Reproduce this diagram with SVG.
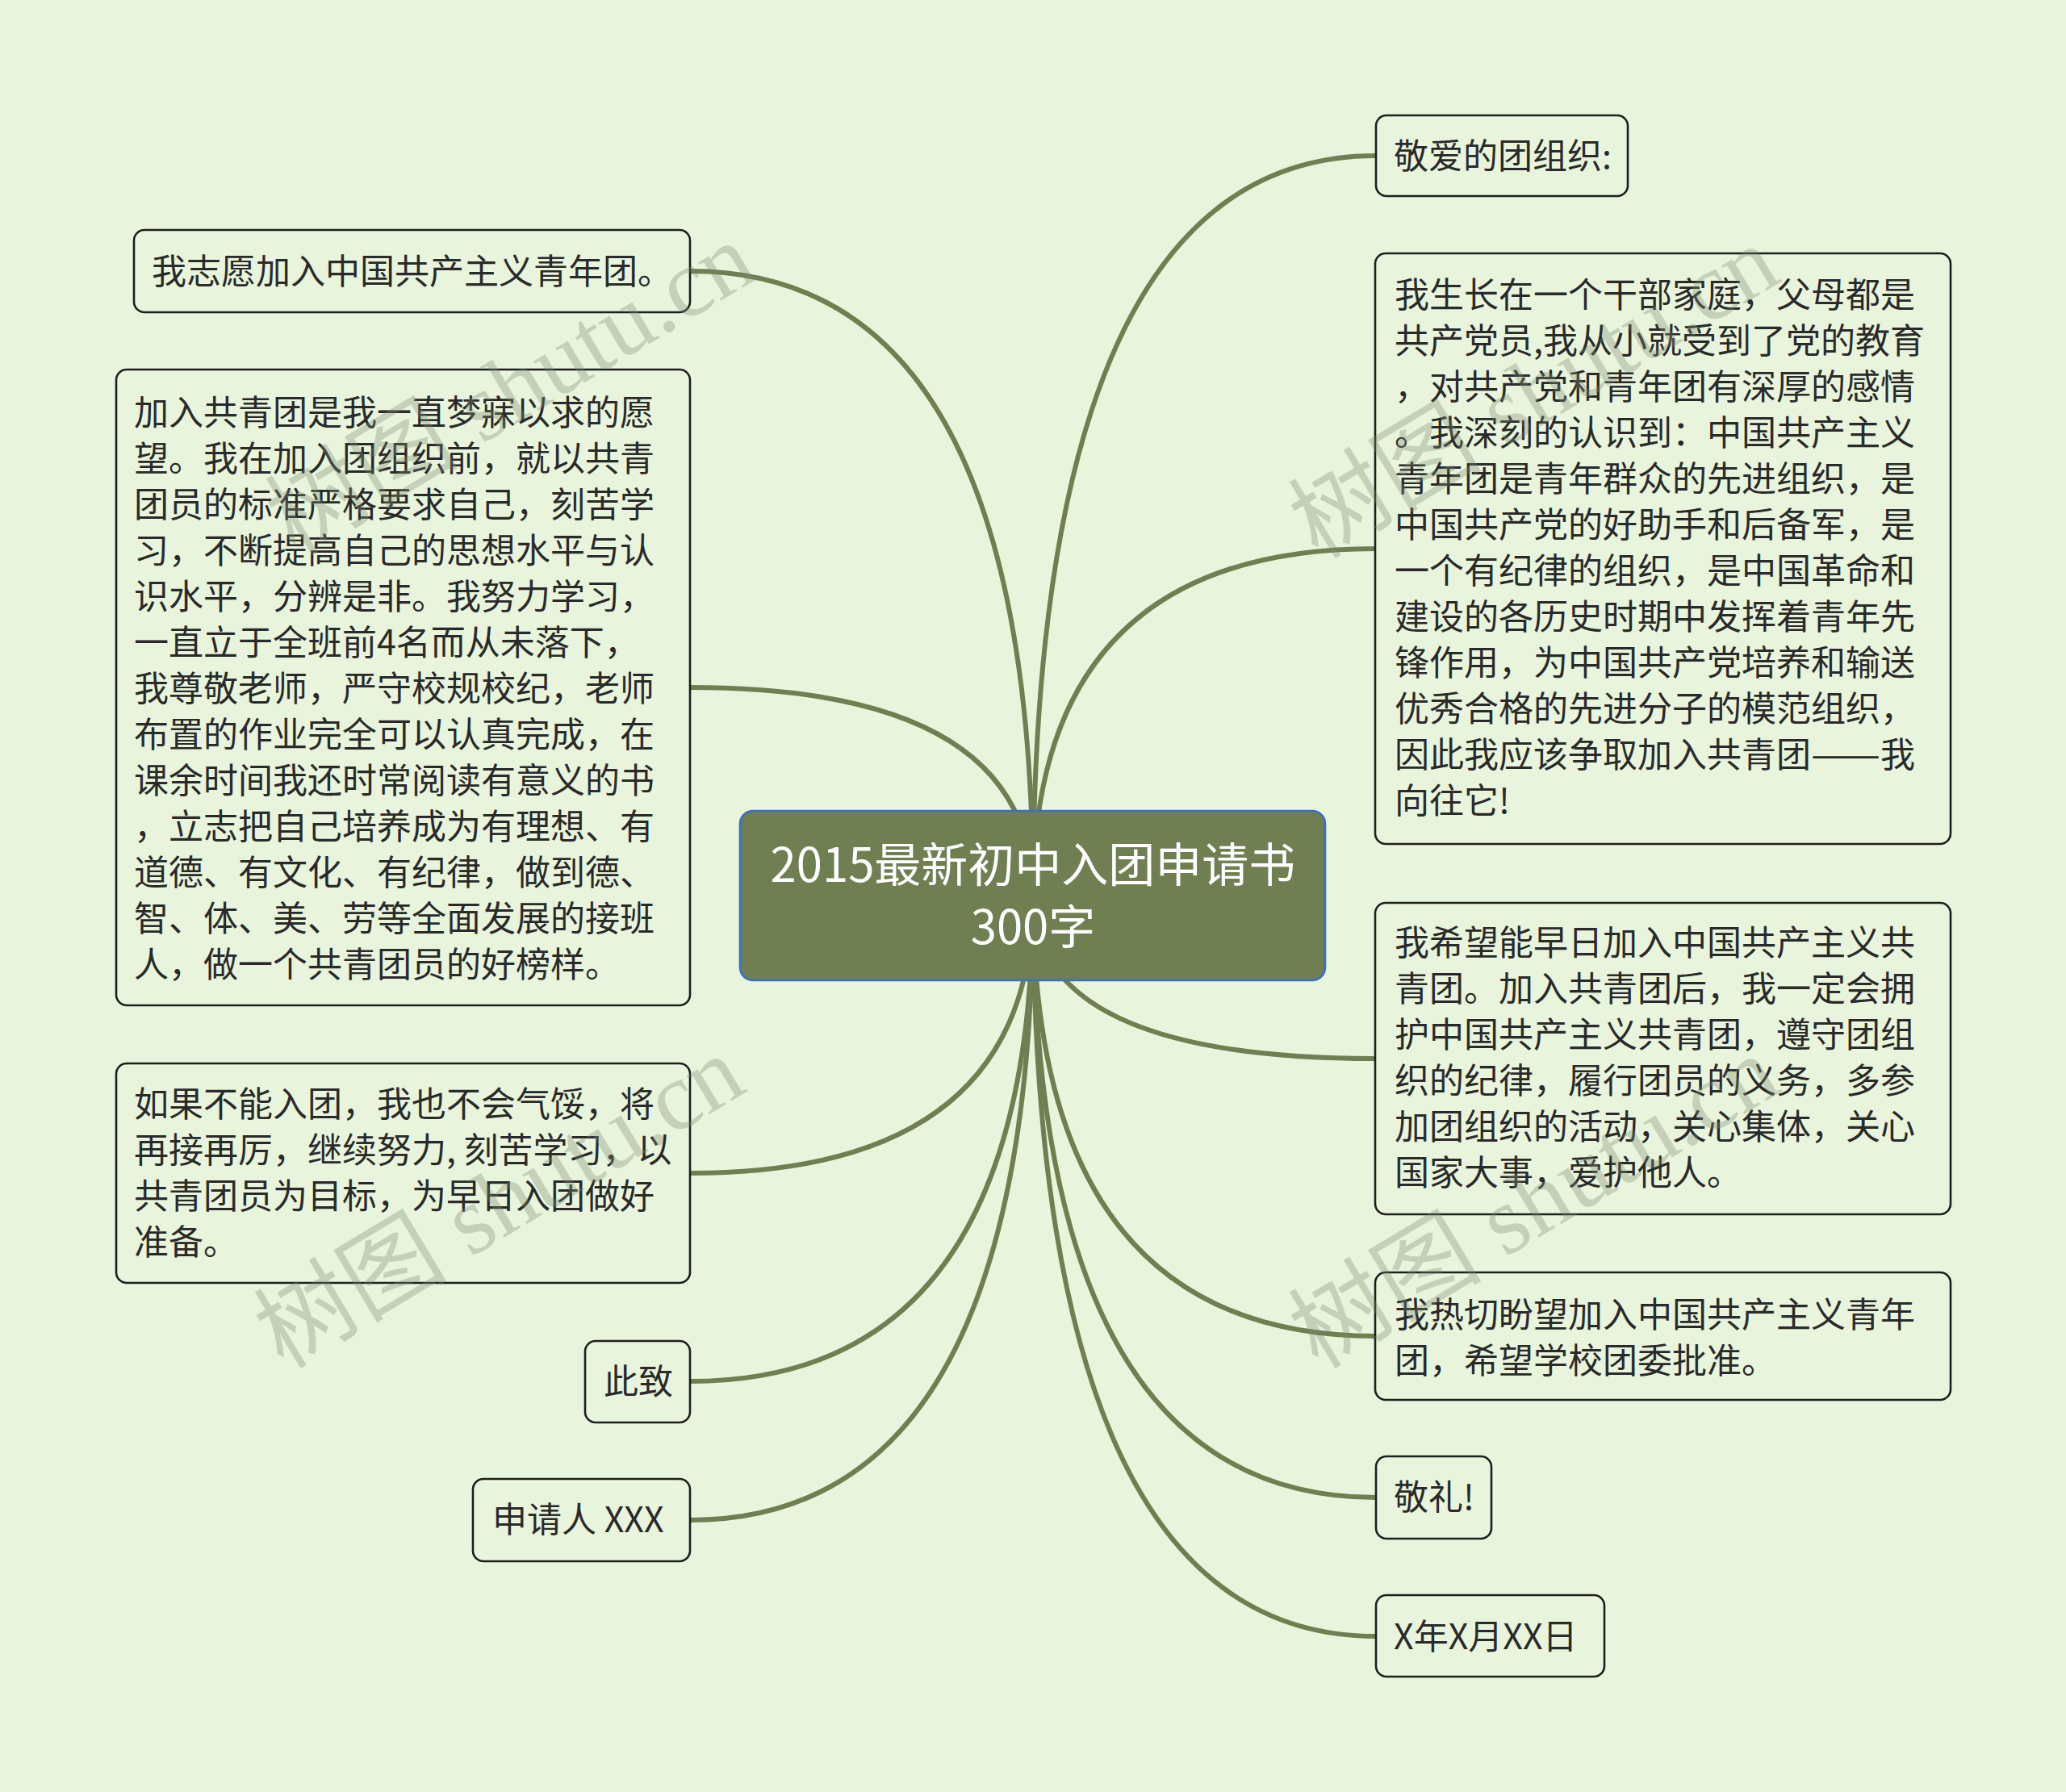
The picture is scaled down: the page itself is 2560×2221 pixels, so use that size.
<svg xmlns="http://www.w3.org/2000/svg" width="2560" height="2221" viewBox="0 0 2560 2221">
<style>
.bg{fill:#e8f5dc}
.conn{fill:none;stroke:#6f7f52;stroke-width:6;stroke-linecap:round}
.box{fill:#e8f5dc;stroke:#1e1e1e;stroke-width:2.6}
.root{fill:#6f7f52;stroke:#3b6fc6;stroke-width:2.6}
.t{font-family:"Noto Sans CJK SC","Noto Sans",sans-serif;font-size:43px;fill:#2a2a2a}
.rt{font-family:"Noto Sans CJK SC","Noto Sans",sans-serif;font-size:58px;fill:#ffffff;text-anchor:middle}
.wm{font-family:"Liberation Serif","Noto Sans CJK SC",serif;font-size:120px;fill:#7d8a70;fill-opacity:0.33}
</style>
<rect class="bg" x="0" y="0" width="2560" height="2221"/>
<g id="connectors">
<path class="conn" d="M1280,1110 Q1280,193 1705,193"/>
<path class="conn" d="M1280,1110 Q1280,680 1705,680"/>
<path class="conn" d="M1280,1110 Q1280,1312 1705,1312"/>
<path class="conn" d="M1280,1110 Q1280,1656 1705,1656"/>
<path class="conn" d="M1280,1110 Q1280,1856 1705,1856"/>
<path class="conn" d="M1280,1110 Q1280,2028 1705,2028"/>
<path class="conn" d="M1280,1110 Q1280,336 855,336"/>
<path class="conn" d="M1280,1110 Q1280,852 855,852"/>
<path class="conn" d="M1280,1110 Q1280,1454 855,1454"/>
<path class="conn" d="M1280,1110 Q1280,1712 855,1712"/>
<path class="conn" d="M1280,1110 Q1280,1884 855,1884"/>
</g>
<g id="root">
<rect class="root" x="917" y="1005" width="725" height="210" rx="16"/>
<text class="rt" x="1280" y="1093">2015最新初中入团申请书</text>
<text class="rt" x="1280" y="1170">300字</text>
</g>
<g id="n-jingai">
<rect class="box" x="1705" y="143" width="312" height="100" rx="13"/>
<text class="t" x="1727" y="209">敬爱的团组织:</text>
</g>
<g id="n-shengzhang">
<rect class="box" x="1704" y="314" width="713" height="732" rx="13"/>
<text class="t">
<tspan x="1728" y="381">我生长在一个干部家庭，父母都是</tspan>
<tspan x="1728" y="438">共产党员,我从小就受到了党的教育</tspan>
<tspan x="1728" y="495">，对共产党和青年团有深厚的感情</tspan>
<tspan x="1728" y="552">。我深刻的认识到：中国共产主义</tspan>
<tspan x="1728" y="609">青年团是青年群众的先进组织，是</tspan>
<tspan x="1728" y="666">中国共产党的好助手和后备军，是</tspan>
<tspan x="1728" y="723">一个有纪律的组织，是中国革命和</tspan>
<tspan x="1728" y="780">建设的各历史时期中发挥着青年先</tspan>
<tspan x="1728" y="837">锋作用，为中国共产党培养和输送</tspan>
<tspan x="1728" y="894">优秀合格的先进分子的模范组织，</tspan>
<tspan x="1728" y="951">因此我应该争取加入共青团</tspan><tspan textLength="86" lengthAdjust="spacingAndGlyphs">——</tspan><tspan>我</tspan>
<tspan x="1728" y="1008">向往它!</tspan>
</text>
</g>
<g id="n-xiwang">
<rect class="box" x="1704" y="1119" width="713" height="386" rx="13"/>
<text class="t">
<tspan x="1728" y="1184">我希望能早日加入中国共产主义共</tspan>
<tspan x="1728" y="1241">青团。加入共青团后，我一定会拥</tspan>
<tspan x="1728" y="1298">护中国共产主义共青团，遵守团组</tspan>
<tspan x="1728" y="1355">织的纪律，履行团员的义务，多参</tspan>
<tspan x="1728" y="1412">加团组织的活动，关心集体，关心</tspan>
<tspan x="1728" y="1469">国家大事，爱护他人。</tspan>
</text>
</g>
<g id="n-reqie">
<rect class="box" x="1704" y="1577" width="713" height="158" rx="13"/>
<text class="t">
<tspan x="1728" y="1645">我热切盼望加入中国共产主义青年</tspan>
<tspan x="1728" y="1702">团，希望学校团委批准。</tspan>
</text>
</g>
<g id="n-jingli">
<rect class="box" x="1705" y="1805" width="143" height="102" rx="13"/>
<text class="t" x="1727" y="1871">敬礼!</text>
</g>
<g id="n-date">
<rect class="box" x="1705" y="1977" width="283" height="101" rx="13"/>
<text class="t" x="1727" y="2044">X年X月XX日</text>
</g>
<g id="n-zhiyuan">
<rect class="box" x="166" y="285" width="689" height="102" rx="13"/>
<text class="t" x="188" y="352">我志愿加入中国共产主义青年团。</text>
</g>
<g id="n-jiaru">
<rect class="box" x="144" y="458" width="711" height="788" rx="13"/>
<text class="t">
<tspan x="166" y="527">加入共青团是我一直梦寐以求的愿</tspan>
<tspan x="166" y="584">望。我在加入团组织前，就以共青</tspan>
<tspan x="166" y="641">团员的标准严格要求自己，刻苦学</tspan>
<tspan x="166" y="698">习，不断提高自己的思想水平与认</tspan>
<tspan x="166" y="755">识水平，分辨是非。我努力学习，</tspan>
<tspan x="166" y="812">一直立于全班前4名而从未落下，</tspan>
<tspan x="166" y="869">我尊敬老师，严守校规校纪，老师</tspan>
<tspan x="166" y="926">布置的作业完全可以认真完成，在</tspan>
<tspan x="166" y="983">课余时间我还时常阅读有意义的书</tspan>
<tspan x="166" y="1040">，立志把自己培养成为有理想、有</tspan>
<tspan x="166" y="1097">道德、有文化、有纪律，做到德、</tspan>
<tspan x="166" y="1154">智、体、美、劳等全面发展的接班</tspan>
<tspan x="166" y="1211">人，做一个共青团员的好榜样。</tspan>
</text>
</g>
<g id="n-ruguo">
<rect class="box" x="144" y="1318" width="711" height="272" rx="13"/>
<text class="t">
<tspan x="166" y="1384">如果不能入团，我也不会气馁，将</tspan>
<tspan x="166" y="1441">再接再厉，继续努力, 刻苦学习，以</tspan>
<tspan x="166" y="1498">共青团员为目标，为早日入团做好</tspan>
<tspan x="166" y="1555">准备。</tspan>
</text>
</g>
<g id="n-cizhi">
<rect class="box" x="725" y="1662" width="130" height="101" rx="13"/>
<text class="t" x="748" y="1728">此致</text>
</g>
<g id="n-shenqing">
<rect class="box" x="586" y="1833" width="269" height="102" rx="13"/>
<text class="t" x="610" y="1899">申请人 XXX</text>
</g>
<g id="watermarks">
<text class="wm" transform="translate(365,690) rotate(-31)">树图 shutu.cn</text>
<text class="wm" transform="translate(1633,694) rotate(-31)">树图 shutu.cn</text>
<text class="wm" transform="translate(351,1698) rotate(-31)">树图 shutu.cn</text>
<text class="wm" transform="translate(1633,1698) rotate(-31)">树图 shutu.cn</text>
</g>
</svg>
